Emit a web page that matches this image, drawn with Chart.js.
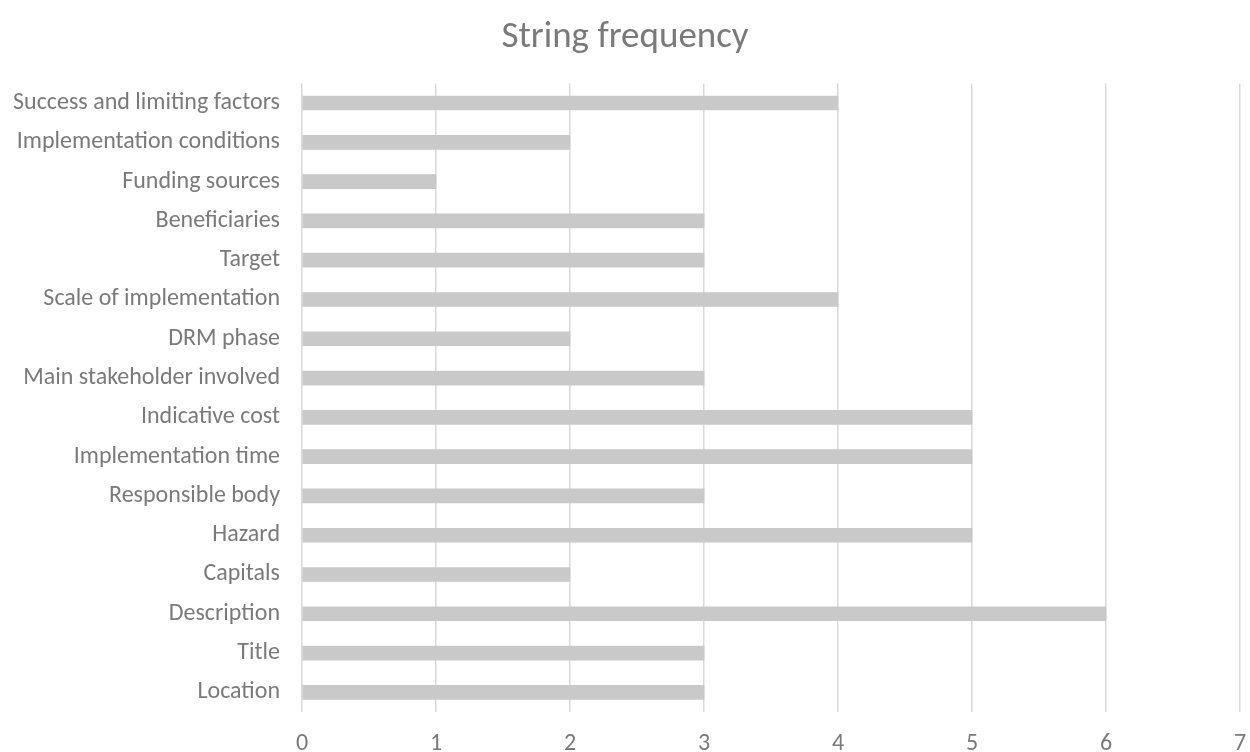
<!DOCTYPE html>
<html>
<head>
<meta charset="utf-8">
<script src="https://cdn.jsdelivr.net/npm/chart.js@4/dist/chart.umd.min.js"></script>
<style>
  html, body { margin: 0; padding: 0; background: #ffffff; }
  #wrap { width: 1250px; height: 752px; }
</style>
</head>
<body>
<div id="wrap"><canvas id="c" width="1250" height="752"></canvas></div>
<script>
// Fields and how often each string appears, listed top to bottom
const categories = [
  "Success and limiting factors",
  "Implementation conditions",
  "Funding sources",
  "Beneficiaries",
  "Target",
  "Scale of implementation",
  "DRM phase",
  "Main stakeholder involved",
  "Indicative cost",
  "Implementation time",
  "Responsible body",
  "Hazard",
  "Capitals",
  "Description",
  "Title",
  "Location"
];
const frequency = [4, 2, 1, 3, 3, 4, 2, 3, 5, 5, 3, 5, 2, 6, 3, 3];
const xTicks = [0, 1, 2, 3, 4, 5, 6, 7];

const FONT = "Carlito, Lato, 'Liberation Sans', sans-serif";
const TEXT = "#7a7a7a";

new Chart(document.getElementById("c"), {
  type: "bar",
  data: {
    labels: categories,
    datasets: [{
      data: frequency,
      backgroundColor: "#c9c9c9",
      borderWidth: 0,
      barThickness: 14
    }]
  },
  options: {
    indexAxis: "y",
    responsive: false,
    animation: false,
    layout: { padding: { left: 0, right: 0, top: 0, bottom: 0 } },
    plugins: {
      legend: { display: false },
      tooltip: { enabled: false },
      title: {
        display: true,
        text: "String frequency",
        color: TEXT,
        font: { family: FONT, size: 37, weight: "normal" },
        padding: { top: 16, bottom: 23 }
      }
    },
    scales: {
      x: {
        min: 0,
        max: 7,
        afterBuildTicks: (s) => { s.ticks = xTicks.map(v => ({ value: v })); },
        grid: { color: "#d9d9d9", lineWidth: 1.5, drawTicks: false },
        border: { display: false },
        ticks: {
          color: TEXT,
          font: { family: FONT, size: 24 },
          padding: 18
        },
        afterFit: (s) => { s.height = 40; s.paddingLeft = 0; s.paddingRight = 10; }
      },
      y: {
        grid: { display: false, drawTicks: false },
        border: { display: false },
        ticks: {
          color: TEXT,
          font: { family: FONT, size: 24 },
          padding: 22,
          autoSkip: false
        },
        afterFit: (s) => { s.width = 302; }
      }
    }
  }
});
</script>
</body>
</html>
